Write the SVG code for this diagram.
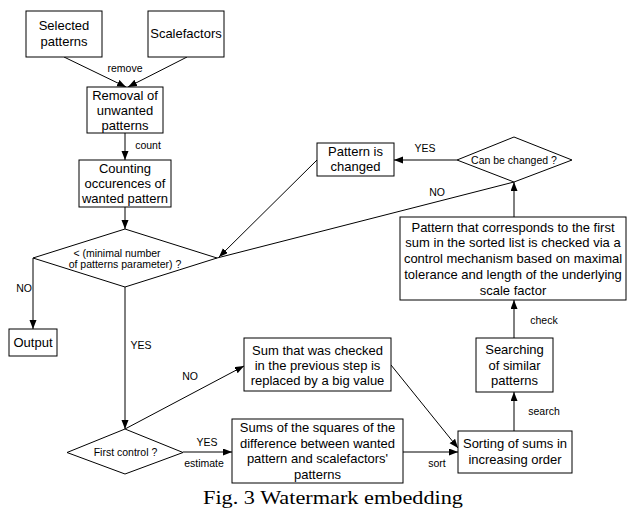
<svg xmlns="http://www.w3.org/2000/svg" width="627" height="510" viewBox="0 0 627 510">
<defs>
<marker id="ah" markerUnits="userSpaceOnUse" markerWidth="10" markerHeight="8" refX="9" refY="3.5" orient="auto">
<path d="M0,0 L9,3.5 L0,7 z" fill="#000"/>
</marker>
<style>
.box{fill:#fff;stroke:#000;stroke-width:1}
.t{font-family:"Liberation Sans",Arial,sans-serif;font-size:13px;fill:#000;text-anchor:middle}
.s{font-family:"Liberation Sans",Arial,sans-serif;font-size:10.5px;fill:#000;text-anchor:middle}
.ln{fill:none;stroke:#000;stroke-width:1}
.a{marker-end:url(#ah)}
.cap{font-family:"Liberation Serif","Times New Roman",serif;font-size:19px;fill:#000}
</style>
</defs>
<rect width="627" height="510" fill="#fff"/>

<g id="connectors">
<line class="ln a" x1="64" y1="57" x2="126" y2="87"/>
<line class="ln a" x1="187" y1="57" x2="128" y2="87"/>
<line class="ln a" x1="125" y1="133" x2="125" y2="160"/>
<line class="ln a" x1="125" y1="207" x2="125" y2="229"/>
<polyline class="ln a" points="33,258 33,329"/>
<line class="ln a" x1="125" y1="287" x2="125" y2="429"/>
<line class="ln a" x1="125" y1="429" x2="244" y2="366"/>
<line class="ln a" x1="183" y1="452" x2="232" y2="452"/>
<line class="ln a" x1="403" y1="452" x2="458" y2="452"/>
<line class="ln a" x1="391" y1="365" x2="458" y2="448"/>
<line class="ln a" x1="514" y1="431" x2="514" y2="392"/>
<line class="ln a" x1="514" y1="338" x2="514" y2="300"/>
<line class="ln a" x1="514" y1="217" x2="514" y2="182"/>
<line class="ln a" x1="457" y1="160" x2="394" y2="160"/>
<line class="ln a" x1="317" y1="160" x2="219" y2="257"/>
<line class="ln" x1="514" y1="182" x2="217" y2="258"/>
<text class="s" x="125" y="72">remove</text>
<text class="s" x="148" y="149">count</text>
<text class="s" x="24" y="292">NO</text>
<text class="s" x="141" y="349">YES</text>
<text class="s" x="190" y="380">NO</text>
<text class="s" x="207" y="446">YES</text>
<text class="s" x="204" y="467">estimate</text>
<text class="s" x="437" y="467">sort</text>
<text class="s" x="544" y="415">search</text>
<text class="s" x="544" y="324">check</text>
<text class="s" x="425" y="152">YES</text>
<text class="s" x="437" y="196">NO</text>
</g>

<g id="selected">
<rect class="box" x="26" y="11" width="76" height="46"/>
<text class="t" x="64" y="30">Selected</text>
<text class="t" x="64" y="45.5">patterns</text>
</g>
<g id="scalefactors">
<rect class="box" x="148" y="11" width="76" height="46"/>
<text class="t" x="186" y="38">Scalefactors</text>
</g>
<g id="removal">
<rect class="box" x="87" y="87" width="76" height="46"/>
<text class="t" x="125" y="99.5">Removal of</text>
<text class="t" x="125" y="114.7">unwanted</text>
<text class="t" x="125" y="130">patterns</text>
</g>
<g id="counting">
<rect class="box" x="79" y="160" width="92" height="47"/>
<text class="t" x="125" y="173">Counting</text>
<text class="t" x="125" y="188">occurences of</text>
<text class="t" x="125" y="202.5">wanted pattern</text>
</g>
<g id="minimal">
<polygon class="box" points="33,258 125,229 217,258 125,287"/>
<text class="s" x="117" y="256.5">&lt; (minimal number</text>
<text class="s" x="125" y="267.5">of patterns parameter) ?</text>
</g>
<g id="output">
<rect class="box" x="9" y="329" width="48" height="27"/>
<text class="t" x="33" y="347">Output</text>
</g>
<g id="firstcontrol">
<polygon class="box" points="67,452.5 125,429 183,452.5 125,474"/>
<text class="s" x="125.5" y="455.5">First control ?</text>
</g>
<g id="replaced">
<rect class="box" x="244" y="338" width="147" height="53"/>
<text class="t" x="317.5" y="354.7">Sum that was checked</text>
<text class="t" x="317.5" y="369.7">in the previous step is</text>
<text class="t" x="317.5" y="385.3">replaced by a big value</text>
</g>
<g id="sums">
<rect class="box" x="232" y="419" width="171" height="64"/>
<text class="t" x="317.5" y="432">Sums of the squares of the</text>
<text class="t" x="317.5" y="447.5">difference between wanted</text>
<text class="t" x="317.5" y="463">pattern and scalefactors'</text>
<text class="t" x="317.5" y="478.5">patterns</text>
</g>
<g id="sorting">
<rect class="box" x="458" y="431" width="114" height="42"/>
<text class="t" x="515" y="448">Sorting of sums in</text>
<text class="t" x="515" y="464">increasing order</text>
</g>
<g id="searching">
<rect class="box" x="476" y="338" width="77" height="54"/>
<text class="t" x="514.5" y="354">Searching</text>
<text class="t" x="514.5" y="369.5">of similar</text>
<text class="t" x="514.5" y="385">patterns</text>
</g>
<g id="control">
<rect class="box" x="400" y="217" width="226" height="83"/>
<text class="t" x="513" y="231.5">Pattern that corresponds to the first</text>
<text class="t" x="513" y="247.3">sum in the sorted list is checked via a</text>
<text class="t" x="513" y="263.1">control mechanism based on maximal</text>
<text class="t" x="513" y="278.9">tolerance and length of the underlying</text>
<text class="t" x="513" y="294.7">scale factor</text>
</g>
<g id="canchange">
<polygon class="box" points="457,160 514,137 572,160 514,182"/>
<text class="s" x="514" y="163.5">Can be changed ?</text>
</g>
<g id="changed">
<rect class="box" x="317" y="143" width="77" height="33"/>
<text class="t" x="355.5" y="156">Pattern is</text>
<text class="t" x="355.5" y="171">changed</text>
</g>

<text class="cap" x="203" y="504.3" textLength="260" lengthAdjust="spacingAndGlyphs">Fig. 3 Watermark embedding</text>
</svg>
